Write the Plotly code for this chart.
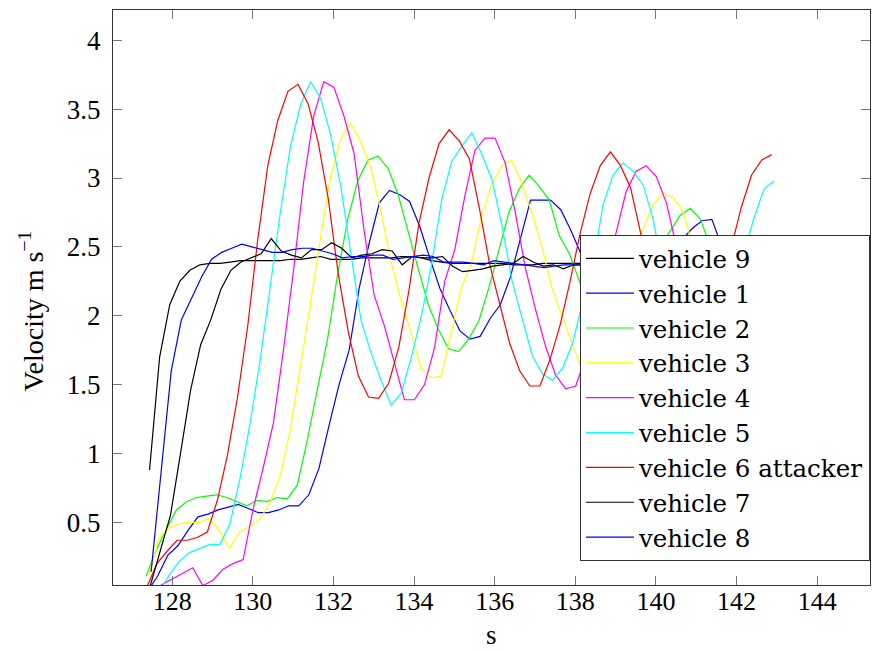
import plotly.graph_objects as go

# Sampling interval of the logged velocities (s)
dt = 0.25

# First sample time of each vehicle's log (s)
start_time = {
    "vehicle 9": 127.437,
    "vehicle 1": 127.388,
    "vehicle 2": 127.353,
    "vehicle 3": 127.420,
    "vehicle 4": 127.509,
    "vehicle 5": 127.432,
    "vehicle 6 attacker": 127.370,
    "vehicle 7": 127.455,
    "vehicle 8": 127.475,
}

# Velocity samples (m/s)
v9 = [0.88, 1.70, 2.08, 2.25, 2.33, 2.37, 2.38, 2.38, 2.39, 2.40, 2.40, 2.40, 2.40, 2.40,
      2.41, 2.41, 2.42, 2.43, 2.41, 2.41, 2.41, 2.42, 2.42, 2.42, 2.42, 2.43, 2.43, 2.42,
      2.40, 2.39, 2.38, 2.38, 2.38, 2.38, 2.38, 2.38, 2.37, 2.37, 2.37, 2.38, 2.38, 2.38,
      2.38, 2.38, 2.37, 2.38, 2.38, 2.37, 2.38, 2.38, 2.39, 2.38, 2.38, 2.37, 2.38, 2.38,
      2.38, 2.37, 2.38, 2.38, 2.38, 2.38]

v1 = [0.00, 0.11, 0.26, 0.33, 0.44, 0.54, 0.56, 0.59, 0.61, 0.63, 0.60, 0.57, 0.57, 0.59,
      0.62, 0.62, 0.70, 0.89, 1.20, 1.50, 1.75, 2.20, 2.53, 2.82, 2.91, 2.88, 2.83, 2.65,
      2.42, 2.20, 2.04, 1.89, 1.83, 1.85, 1.98, 2.08, 2.28, 2.55, 2.84, 2.84, 2.84, 2.77,
      2.62, 2.45, 2.30, 2.15, 2.05, 2.00, 2.05, 2.20, 2.35, 2.45, 2.50, 2.55, 2.63, 2.69,
      2.70, 2.50, 2.35, 2.20, 2.10, 2.05]

v2 = [0.11, 0.30, 0.45, 0.59, 0.65, 0.68, 0.69, 0.70, 0.68, 0.65, 0.62, 0.66, 0.65, 0.68,
      0.67, 0.77, 1.10, 1.47, 1.83, 2.30, 2.70, 2.98, 3.13, 3.16, 3.07, 2.88, 2.60, 2.34,
      2.08, 1.90, 1.76, 1.74, 1.83, 1.96, 2.20, 2.48, 2.75, 2.92, 3.02, 2.94, 2.84, 2.58,
      2.45, 2.25, 2.00, 1.85, 1.80, 1.85, 2.00, 2.20, 2.40, 2.50, 2.62, 2.73, 2.78, 2.70,
      2.50, 2.30, 2.10, 1.95, 1.90, 1.95]

v3 = [0.12, 0.38, 0.46, 0.49, 0.50, 0.50, 0.53, 0.44, 0.31, 0.43, 0.47, 0.52, 0.64, 0.83,
      1.16, 1.60, 2.07, 2.55, 3.00, 3.28, 3.40, 3.27, 3.08, 2.77, 2.40, 2.12, 1.88, 1.62,
      1.55, 1.56, 1.88, 2.20, 2.38, 2.72, 2.95, 3.09, 3.13, 2.96, 2.75, 2.50, 2.20, 2.00,
      1.80, 1.60, 1.55, 1.60, 1.80, 2.10, 2.45, 2.63, 2.80, 2.89, 2.86, 2.76, 2.50, 2.20,
      1.90, 1.75, 1.70, 1.80, 2.00, 2.20]

v4 = [0.00, 0.05, 0.09, 0.13, 0.17, 0.04, 0.08, 0.16, 0.20, 0.23, 0.60, 0.90, 1.22, 1.75,
      2.33, 2.97, 3.45, 3.70, 3.66, 3.45, 3.18, 2.62, 2.15, 1.93, 1.66, 1.39, 1.39, 1.50,
      1.77, 2.25, 2.48, 2.87, 3.20, 3.29, 3.29, 3.11, 2.75, 2.35, 2.05, 1.78, 1.57, 1.47,
      1.49, 1.70, 2.05, 2.40, 2.60, 2.90, 3.05, 3.09, 3.01, 2.82, 2.50, 2.10, 1.80, 1.60,
      1.55, 1.60, 1.75, 2.00, 2.30, 2.50]

v5 = [0.00, 0.00, 0.12, 0.22, 0.28, 0.31, 0.34, 0.34, 0.49, 0.82, 1.22, 1.68, 2.20, 2.75,
      3.23, 3.53, 3.70, 3.58, 3.31, 2.94, 2.45, 1.97, 1.73, 1.53, 1.35, 1.44, 1.70, 2.00,
      2.37, 2.84, 3.12, 3.23, 3.33, 3.17, 2.99, 2.65, 2.25, 1.98, 1.71, 1.58, 1.53, 1.62,
      1.80, 2.10, 2.35, 2.80, 3.02, 3.11, 3.05, 2.95, 2.70, 2.30, 1.95, 1.70, 1.60, 1.60,
      1.75, 1.90, 2.20, 2.45, 2.71, 2.92, 2.98]

v6 = [0.03, 0.20, 0.29, 0.37, 0.37, 0.39, 0.43, 0.66, 0.99, 1.41, 1.92, 2.55, 3.09, 3.42,
      3.63, 3.68, 3.54, 3.26, 2.85, 2.30, 1.88, 1.56, 1.41, 1.40, 1.51, 1.77, 2.18, 2.67,
      3.00, 3.25, 3.35, 3.27, 3.14, 2.78, 2.38, 2.10, 1.80, 1.60, 1.49, 1.49, 1.68, 1.93,
      2.25, 2.60, 2.89, 3.09, 3.19, 3.09, 2.93, 2.60, 2.25, 1.90, 1.65, 1.50, 1.47, 1.55,
      1.80, 2.15, 2.50, 2.79, 3.02, 3.13, 3.17]

v7 = [0.04, 0.30, 0.55, 1.00, 1.46, 1.79, 1.97, 2.19, 2.33, 2.39, 2.42, 2.45, 2.56, 2.47,
      2.44, 2.42, 2.48, 2.48, 2.53, 2.49, 2.42, 2.44, 2.45, 2.48, 2.47, 2.37, 2.43, 2.42,
      2.42, 2.43, 2.36, 2.32, 2.33, 2.34, 2.36, 2.37, 2.38, 2.43, 2.39, 2.36, 2.37, 2.34,
      2.37, 2.37, 2.38, 2.37, 2.36, 2.37, 2.38, 2.37, 2.37, 2.38, 2.37, 2.36, 2.37, 2.37,
      2.38, 2.37, 2.37, 2.36, 2.37, 2.37]

v8 = [0.14, 0.85, 1.60, 1.97, 2.12, 2.28, 2.41, 2.46, 2.49, 2.52, 2.50, 2.48, 2.46, 2.46,
      2.48, 2.49, 2.49, 2.47, 2.45, 2.42, 2.43, 2.43, 2.44, 2.44, 2.41, 2.42, 2.43, 2.44,
      2.43, 2.39, 2.39, 2.39, 2.38, 2.37, 2.40, 2.39, 2.38, 2.37, 2.36, 2.35, 2.36, 2.37,
      2.37, 2.37, 2.36, 2.37, 2.37, 2.38, 2.37, 2.37, 2.36, 2.37, 2.37, 2.37, 2.38, 2.37,
      2.37, 2.36, 2.37, 2.37, 2.37, 2.37]

series = [
    ("vehicle 9", v9, "#000000"),
    ("vehicle 1", v1, "#0000ff"),
    ("vehicle 2", v2, "#00ff00"),
    ("vehicle 3", v3, "#ffff00"),
    ("vehicle 4", v4, "#ff00ff"),
    ("vehicle 5", v5, "#00ffff"),
    ("vehicle 6 attacker", v6, "#ff0000"),
    ("vehicle 7", v7, "#000000"),
    ("vehicle 8", v8, "#0000ff"),
]

x_ticks = [128, 130, 132, 134, 136, 138, 140, 142, 144]
y_ticks = [0.5, 1, 1.5, 2, 2.5, 3, 3.5, 4]

FONT = "Liberation Serif, DejaVu Serif, serif"
LEGEND_FONT = "DejaVu Serif, Liberation Serif, serif"

fig = go.Figure()
for name, vals, color in series:
    t0 = start_time[name]
    times = [t0 + dt * i for i in range(len(vals))]
    fig.add_trace(go.Scatter(
        x=times, y=vals, mode="lines", name=name,
        line=dict(color=color, width=1.2),
    ))

axis_common = dict(
    showgrid=False, zeroline=False,
    showline=True, linecolor="#333333", linewidth=1.2,
    mirror="ticks", ticks="inside", ticklen=9, tickwidth=1, tickcolor="#777777",
)

fig.update_layout(
    width=873, height=652,
    margin=dict(l=113, r=3, t=10, b=67),
    paper_bgcolor="white", plot_bgcolor="white",
    font=dict(family=FONT, color="black"),
    xaxis=dict(range=[126.53, 145.31], tickvals=x_ticks, ticklabelstandoff=-7,
               tickfont=dict(family=FONT, size=26, color="black"),
               **axis_common),
    yaxis=dict(range=[0.045, 4.22], tickvals=y_ticks, ticklabelstandoff=6,
               tickfont=dict(family=FONT, size=27, color="black"),
               **axis_common),
    annotations=[
        dict(text="s", xref="paper", yref="paper", x=0.5, y=-0.0861,
             xanchor="center", yanchor="middle", showarrow=False,
             font=dict(family=FONT, size=27, color="black")),
        dict(text="Velocity m s<sup>−1</sup>", xref="paper", yref="paper",
             x=-0.108, y=0.476, textangle=-90, xanchor="center", yanchor="middle",
             showarrow=False, font=dict(family=FONT, size=28, color="black")),
    ],
    legend=dict(
        x=1.0, xanchor="right", y=0.042, yanchor="bottom",
        bgcolor="white", bordercolor="#333333", borderwidth=1,
        font=dict(family=LEGEND_FONT, size=24.5, color="black"),
        tracegroupgap=0, itemwidth=48,
    ),
    showlegend=True,
)

fig.write_html("out.html")
